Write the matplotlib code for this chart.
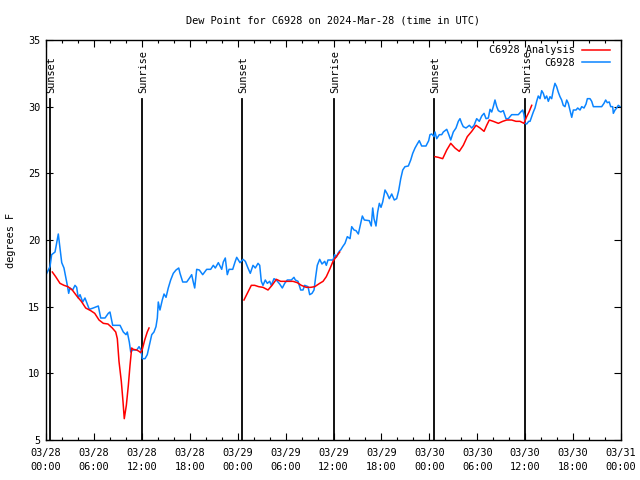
# Dew point at station C6928, observations vs analysis, with sunrise/sunset markers

import numpy as np
import pandas as pd
import matplotlib
matplotlib.use('Agg')
import matplotlib.pyplot as plt
import matplotlib.dates as mdates

plt.rcParams['font.family'] = ['DejaVu Sans Mono']
fs = 7.4

start = pd.Timestamp('2024-03-28 00:00')

# Observed dew point (hours after 03/28 00:00 UTC, degrees F)
obs_hours = [0.09, 0.5, 0.71, 1.13, 1.34, 1.54, 1.75, 1.97, 2.25, 2.5, 2.67, 2.84, 3.0, 3.34, 3.63,
             3.84, 4.04, 4.26, 4.6, 4.88, 5.1, 5.42, 5.92, 6.35, 6.55, 6.85, 7.39, 7.8, 8.01, 8.35,
             9.27, 9.68, 10.02, 10.18, 10.43, 10.61, 10.86, 11.36, 11.65, 11.9, 12.06, 12.4, 12.68,
             13.02, 13.24, 13.52, 13.77, 13.94, 14.06, 14.27, 14.56, 14.78, 15.03, 15.31, 15.61,
             15.94, 16.28, 16.62, 16.78, 17.12, 17.62, 18.03, 18.24, 18.44, 18.62, 18.87, 19.2,
             19.62, 20.12, 20.62, 20.95, 21.2, 21.58, 22.0, 22.2, 22.45, 22.7, 22.92, 23.38, 23.67,
             23.88, 24.08, 24.29, 24.67, 24.96, 25.29, 25.58, 25.92, 26.21, 26.55, 26.76, 26.96,
             27.17, 27.46, 27.71, 28.01, 28.21, 28.55, 28.84, 29.26, 29.59, 29.89, 30.21, 30.72,
             31.05, 31.22, 31.56, 31.89, 32.18, 32.39, 32.81, 33.02, 33.31, 33.56, 33.77, 33.97,
             34.27, 34.56, 34.9, 35.1, 35.31, 35.94, 36.15, 36.35, 36.56, 36.78, 36.9, 37.15,
             37.44, 37.73, 38.07, 38.28, 38.57, 38.82, 39.11, 39.41, 39.61, 39.86, 40.48, 40.73,
             40.91, 41.07, 41.32, 41.53, 41.74, 41.95, 42.16, 42.45, 42.74, 42.99, 43.29, 43.61,
             43.91, 44.16, 44.42, 44.67, 44.95, 45.37, 45.67, 45.92, 46.21, 46.49, 46.74, 47.04,
             47.58, 47.92, 48.08, 48.3, 48.59, 48.71, 48.92, 49.25, 49.55, 49.75, 50.18, 50.38,
             50.68, 51.0, 51.34, 51.63, 51.84, 52.05, 52.25, 52.59, 53.01, 53.31, 53.6, 53.93,
             54.26, 54.56, 54.85, 55.1, 55.39, 55.6, 55.81, 56.01, 56.22, 56.44, 56.64, 56.94,
             57.26, 57.6, 57.89, 58.31, 58.73, 59.14, 59.44, 59.69, 59.85, 59.98, 60.19, 60.44,
             60.61, 60.82, 61.02, 61.23, 61.44, 61.64, 61.86, 62.07, 62.27, 62.48, 62.69, 62.9,
             63.11, 63.32, 63.52, 63.73, 63.94, 64.14, 64.36, 64.57, 64.77, 64.99, 65.2, 65.4,
             65.61, 65.83, 66.03, 66.37, 66.58, 66.87, 67.08, 67.37, 67.62, 67.79, 68.12, 68.33,
             68.54, 69.58, 69.87, 70.08, 70.28, 70.53, 70.71, 70.96, 71.04, 71.25, 71.46, 71.66,
             71.87]
obs_dewpt = [17.5, 18.0, 18.9, 19.1, 19.8, 20.45, 19.4, 18.3, 17.9, 17.15, 16.6, 16.0, 16.4, 16.25,
             16.6, 16.45, 15.65, 15.9, 15.35, 15.65, 15.3, 14.8, 14.9, 15.0, 15.05, 14.15, 14.15,
             14.5, 14.6, 13.6, 13.6, 13.1, 12.9, 13.1, 12.35, 11.6, 11.75, 11.75, 12.0, 11.75, 11.1,
             11.1, 11.4, 12.3, 12.9, 13.1, 13.5, 14.15, 15.35, 14.75, 15.5, 15.95, 15.7, 16.4, 17.0,
             17.5, 17.75, 17.9, 17.5, 16.85, 16.85, 17.2, 17.4, 16.85, 16.4, 17.8, 17.75, 17.4,
             17.8, 17.8, 18.1, 17.9, 18.3, 17.8, 18.35, 18.65, 17.4, 17.8, 17.8, 18.35, 18.7, 18.5,
             18.3, 18.55, 18.4, 17.9, 17.5, 18.1, 17.9, 18.25, 18.1, 16.9, 16.6, 17.0, 16.75, 16.9,
             16.6, 17.1, 17.0, 16.7, 16.4, 16.75, 17.0, 17.0, 17.2, 17.0, 16.9, 16.25, 16.25, 16.6,
             16.5, 15.9, 16.0, 16.25, 17.25, 18.1, 18.55, 18.2, 18.4, 18.1, 18.5, 18.5, 18.9, 18.7,
             19.0, 19.2, 19.25, 19.5, 19.75, 20.25, 20.1, 21.0, 20.75, 20.7, 20.45, 21.25, 21.8,
             21.5, 21.45, 21.05, 22.4, 21.6, 21.05, 22.1, 22.75, 22.45, 22.85, 23.75, 23.45, 23.1,
             23.45, 23.0, 23.1, 23.7, 24.6, 25.25, 25.5, 25.55, 26.0, 26.5, 26.9, 27.2, 27.45,
             27.05, 27.05, 27.45, 27.9, 27.95, 27.75, 28.1, 27.6, 27.9, 27.9, 28.1, 28.3, 28.0,
             27.5, 28.1, 28.4, 28.9, 29.1, 28.75, 28.5, 28.4, 28.6, 28.4, 28.6, 29.1, 28.9, 29.3,
             29.5, 29.1, 29.15, 29.8, 29.6, 30.0, 30.5, 30.0, 29.7, 29.6, 29.7, 29.1, 29.1, 29.4,
             29.4, 29.4, 29.6, 29.75, 29.4, 28.75, 28.7, 28.9, 28.9, 29.25, 29.6, 29.9, 30.4, 30.8,
             30.6, 31.2, 31.0, 30.6, 30.8, 30.4, 30.75, 30.6, 31.25, 31.75, 31.5, 31.1, 30.75,
             30.5, 30.1, 30.0, 30.5, 30.25, 29.75, 29.2, 29.75, 29.75, 29.9, 29.75, 30.0, 29.9,
             30.2, 30.6, 30.6, 30.4, 30.0, 30.0, 30.25, 30.5, 30.3, 30.35, 30.0, 30.0, 29.5, 29.75,
             29.9, 30.1, 30.0]

# Analysis, three separate overnight segments
ana1_hours = [0.79, 1.21, 1.75, 2.25, 2.75, 3.29, 3.92, 4.42, 4.97, 5.6, 6.1, 6.64, 7.18, 7.76,
              8.3, 8.73, 8.93, 9.14, 9.43, 9.64, 9.8, 10.06, 10.31, 10.52, 10.73, 10.93, 11.36,
              11.65, 11.86, 12.06, 12.36, 12.68, 12.9]
ana1_dewpt = [17.6, 17.25, 16.75, 16.6, 16.5, 16.25, 15.75, 15.4, 14.9, 14.7, 14.5, 14.0, 13.75,
              13.7, 13.4, 13.1, 12.6, 10.9, 9.4, 7.9, 6.6, 7.6, 9.1, 10.6, 11.9, 11.8, 11.75,
              11.65, 11.55, 11.8, 12.5, 13.1, 13.4]
ana2_hours = [24.79, 25.29, 25.71, 26.13, 26.63, 27.17, 27.8, 28.3, 28.84, 29.39, 29.89, 30.39,
              30.93, 31.47, 31.97, 32.59, 33.15, 33.65, 34.27, 34.69, 35.1, 35.52, 35.94, 36.35,
              36.78]
ana2_dewpt = [15.5, 16.1, 16.6, 16.6, 16.5, 16.45, 16.25, 16.6, 17.05, 16.9, 16.9, 16.9, 16.9,
              16.8, 16.6, 16.45, 16.45, 16.5, 16.75, 16.9, 17.25, 17.8, 18.4, 18.75, 19.1]
ana3_hours = [48.71, 49.12, 49.67, 50.18, 50.68, 51.21, 51.75, 52.25, 52.75, 53.31, 53.85, 54.35,
              54.85, 55.18, 55.51, 56.01, 56.64, 57.19, 57.69, 58.31, 58.85, 59.35, 59.85, 60.19,
              60.48, 60.82]
ana3_dewpt = [26.25, 26.2, 26.1, 26.75, 27.25, 26.9, 26.65, 27.1, 27.75, 28.15, 28.6, 28.4,
              28.15, 28.6, 29.0, 28.9, 28.75, 28.9, 29.0, 29.0, 28.9, 28.9, 28.75, 29.25, 29.6,
              30.1]

# Sun events (hours after start)
sun_hours = [0.45, 12.0, 24.5, 36.05, 48.55, 60.0]
sun_labels = ['Sunset', 'Sunrise', 'Sunset', 'Sunrise', 'Sunset', 'Sunrise']


def to_time(h):
    return start + pd.to_timedelta(np.array(h), unit='h')


fig = plt.figure(figsize=(6.4, 4.8), dpi=100)
ax = fig.add_axes([46 / 640, 40 / 480, 575 / 640, 400 / 480])

red = '#ff0000'
blue = '#0a84ff'

# sunrise / sunset markers
for h, lab in zip(sun_hours, sun_labels):
    t = to_time([h])[0]
    ax.plot([t, t], [5, 30.6], color='black', lw=1.3, zorder=1)
    ax.text(t + pd.Timedelta(minutes=12), 31.05, lab, rotation=90, ha='center', va='bottom',
            fontsize=fs)

for i, (hh, vv) in enumerate([(ana1_hours, ana1_dewpt), (ana2_hours, ana2_dewpt),
                              (ana3_hours, ana3_dewpt)]):
    ax.plot(to_time(hh), vv, color=red, lw=1.1, zorder=3,
            label='C6928 Analysis' if i == 0 else None)
ax.plot(to_time(obs_hours), obs_dewpt, color=blue, lw=1.1, zorder=2, label='C6928')

ax.set_xlim(start, start + pd.Timedelta(hours=72))
ax.set_ylim(5, 35)
ax.set_yticks(range(5, 36, 5))

ax.xaxis.set_major_locator(mdates.HourLocator(byhour=[0, 6, 12, 18]))
ax.xaxis.set_minor_locator(mdates.HourLocator(interval=2))
ax.xaxis.set_major_formatter(mdates.DateFormatter('%m/%d\n%H:%M'))

ax.tick_params(which='both', direction='in', top=True, right=True, labelsize=fs)
ax.tick_params(which='major', length=5, width=0.8)
ax.tick_params(which='minor', length=2.5, width=0.8)
ax.tick_params(axis='x', pad=6)
ax.tick_params(axis='y', pad=4)
for sp in ax.spines.values():
    sp.set_linewidth(1.0)

ax.set_ylabel('degrees F', fontsize=fs, labelpad=9)
ax.set_title('Dew Point for C6928 on 2024-Mar-28 (time in UTC)', fontsize=fs, pad=12)

ax.legend(loc='upper right', bbox_to_anchor=(0.984, 0.992), frameon=False, fontsize=fs,
          markerfirst=False, handlelength=2.7, handletextpad=0.7, labelspacing=0.25,
          borderaxespad=0.0, borderpad=0.2)

fig.canvas.draw()
for lbl in ax.get_xticklabels():
    lbl.set_linespacing(1.5)

fig.savefig('out.png', dpi=100)
